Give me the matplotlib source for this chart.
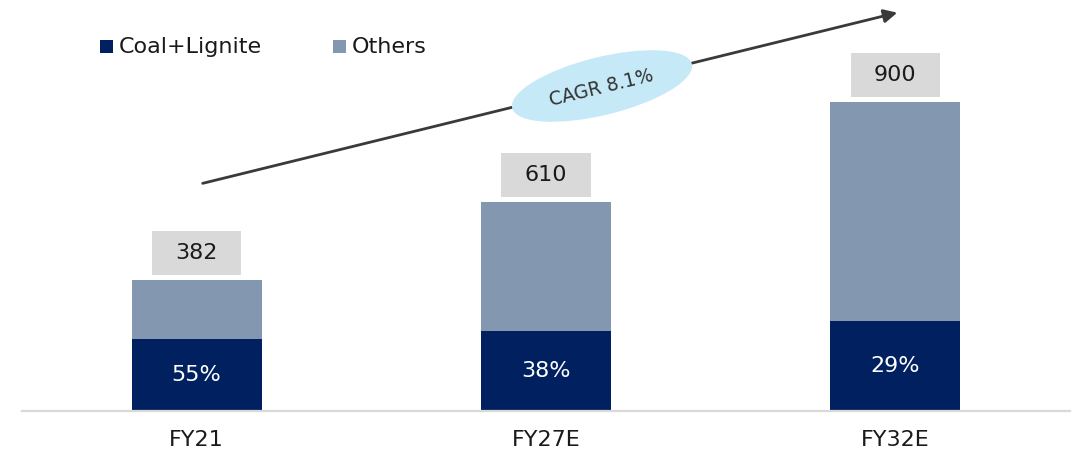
import matplotlib
matplotlib.use("Agg")
import matplotlib.pyplot as plt
from matplotlib.patches import Rectangle, Ellipse

categories = ["FY21", "FY27E", "FY32E"]
totals = [382, 610, 900]
coal_share = [55, 38, 29]
series_names = ["Coal+Lignite", "Others"]
cagr_label = "CAGR 8.1%"

coal = [t * s / 100 for t, s in zip(totals, coal_share)]
others = [t - c for t, c in zip(totals, coal)]

C_COAL = "#002060"
C_OTH = "#8497b0"
C_BOX = "#d9d9d9"
C_TXT = "#1a1a1a"

plt.rcParams['font.family'] = ['DejaVu Sans']

W, H = 1084, 459
fig = plt.figure(figsize=(W / 100, H / 100), dpi=100)
ax = fig.add_axes([22 / W, 48 / H, (1070 - 22) / W, 411 / H])
x = list(range(len(categories)))
bw = 0.3725
ax.bar(x, coal, width=bw, color=C_COAL, label=series_names[0], zorder=2)
ax.bar(x, others, bottom=coal, width=bw, color=C_OTH, label=series_names[1], zorder=2)
ax.set_xlim(-0.5, 2.5)
ax.set_ylim(0, 1198)
for s in ["top", "right", "left"]:
    ax.spines[s].set_visible(False)
ax.spines["bottom"].set_color("#d9d9d9")
ax.spines["bottom"].set_linewidth(1.6)
ax.set_yticks([])
ax.set_xticks(x)
ax.set_xticklabels(categories, fontsize=16, color=C_TXT)
ax.tick_params(axis='x', length=0, pad=14)

unit = 1198 / 411.0  # data units per pixel
for xi, t, c, s in zip(x, totals, coal, coal_share):
    ax.text(xi, c / 2, f"{s}%", ha='center', va='center', color='white', fontsize=16, zorder=3)
    bh = 44 * unit
    bwid = 0.255
    y0 = t + 5 * unit
    ax.add_patch(Rectangle((xi - bwid / 2, y0), bwid, bh, facecolor=C_BOX, edgecolor='none', zorder=2))
    ax.text(xi, y0 + bh / 2, f"{t}", ha='center', va='center', color=C_TXT, fontsize=16, zorder=3)

# legend (manual)
ov = fig.add_axes([0, 0, 1, 1], zorder=5)
ov.set_xlim(0, W)
ov.set_ylim(0, H)
ov.axis('off')
for name, col, xs in [(series_names[0], C_COAL, 100), (series_names[1], C_OTH, 333)]:
    ov.add_patch(Rectangle((xs, H - 53), 13, 13, facecolor=col, edgecolor='none'))
    ov.text(xs + 19, H - 47, name, ha='left', va='center', fontsize=16, color=C_TXT)

# arrow + CAGR ellipse
ov.annotate("", xy=(900, H - 12), xytext=(200, H - 184),
            arrowprops=dict(arrowstyle='-|>', color='#3a3a3a', lw=2, mutation_scale=20))
ov.add_patch(Ellipse((602, H - 86), 185, 58, angle=13.8, facecolor='#c5e9f7', edgecolor='none', zorder=6))
ov.text(601, H - 88, cagr_label, rotation=13.8, ha='center', va='center', fontsize=13.5,
        color='#333333', zorder=7, rotation_mode='anchor')

fig.savefig("out.png", dpi=100)
